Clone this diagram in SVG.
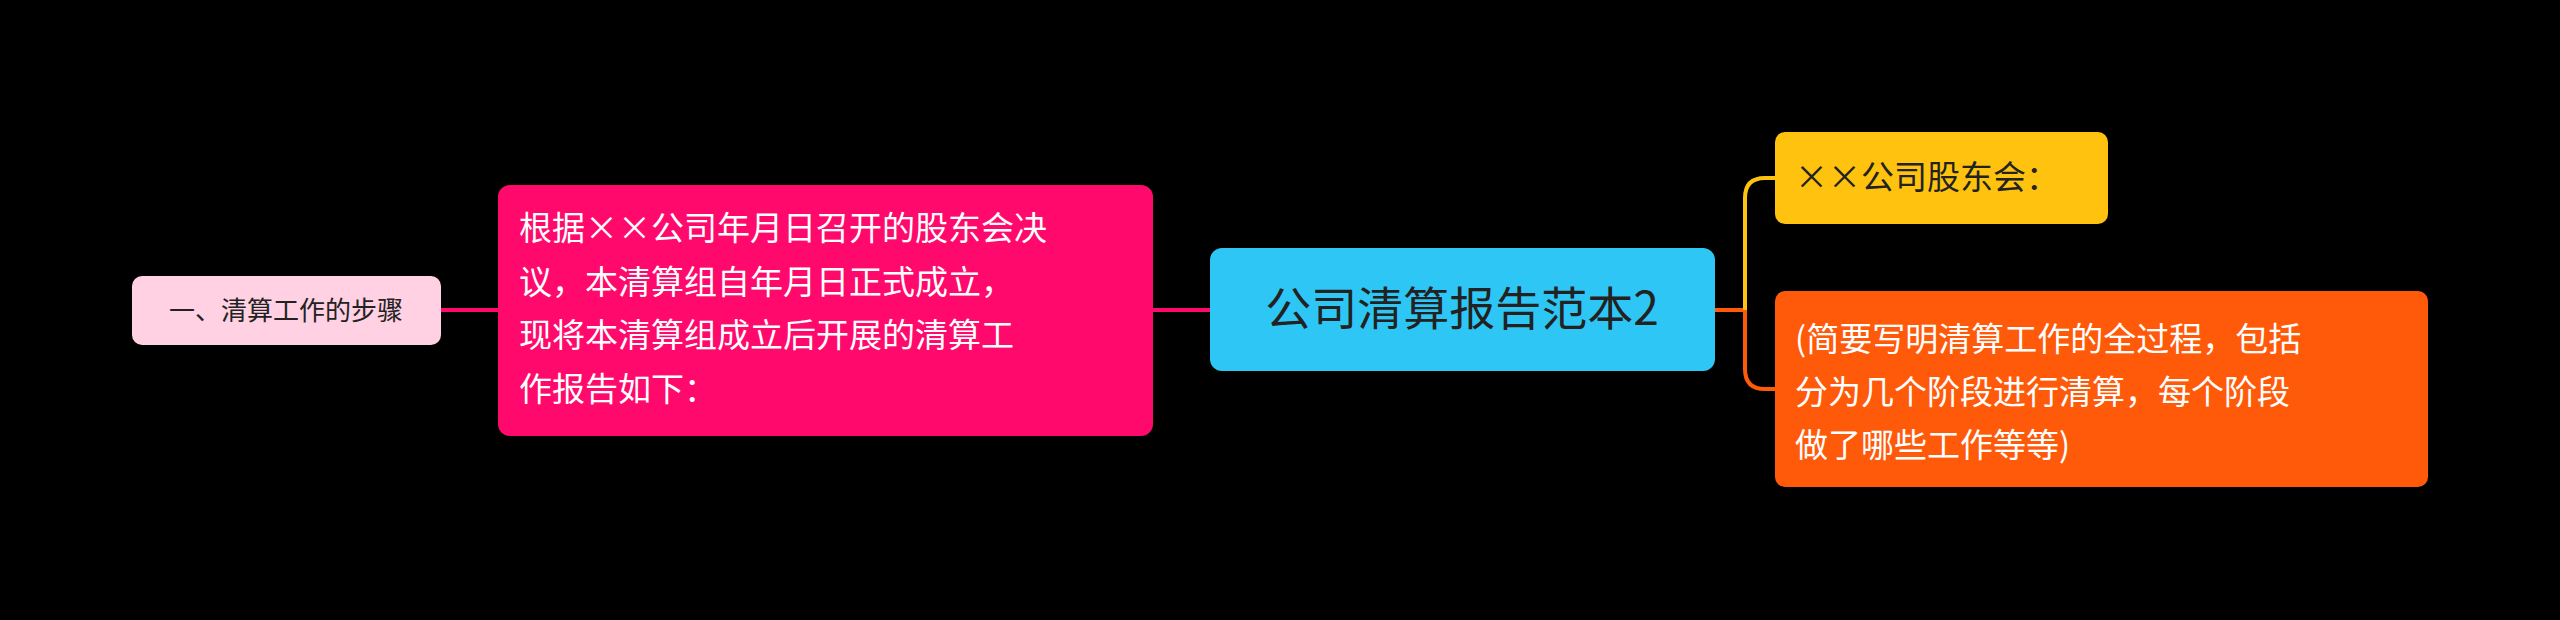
<svg xmlns="http://www.w3.org/2000/svg" width="2560" height="620" viewBox="0 0 2560 620">
<style>
text{font-family:"Noto Sans CJK SC","Noto Sans",sans-serif}
.w{fill:#fff;font-size:33px}
.d{fill:#222;font-size:33px}
.c{fill:none;stroke-width:4}
</style>
<rect width="2560" height="620" fill="#000"/>
<g id="connectors">
<path class="c" stroke="#ff0a6c" d="M1210 310 H1153"/>
<path class="c" stroke="#ff0a6c" d="M498 310 H441"/>
<path class="c" stroke="#ff5a0a" d="M1715 310 H1745"/>
<path class="c" stroke="#ffc20e" d="M1745 310 V198 Q1745 178 1765 178 H1775"/>
<path class="c" stroke="#ff5a0a" d="M1745 310 V369 Q1745 389 1765 389 H1775"/>
</g>
<g id="center">
<rect x="1210" y="248" width="505" height="123" rx="12" fill="#2ec7f5"/>
<text x="1462" y="325" text-anchor="middle" font-size="46" fill="#222">公司清算报告范本2</text>
</g>
<g id="left">
<rect x="498" y="185" width="655" height="251" rx="12" fill="#ff0a6c"/>
<text class="w" x="519" y="240">根据××公司年月日召开的股东会决</text>
<text class="w" x="519" y="294">议，本清算组自年月日正式成立，</text>
<text class="w" x="519" y="347">现将本清算组成立后开展的清算工</text>
<text class="w" x="519" y="401">作报告如下：</text>
</g>
<g id="farleft">
<rect x="132" y="276" width="309" height="69" rx="10" fill="#ffd1e3"/>
<text x="286" y="320" text-anchor="middle" font-size="26" fill="#222">一、清算工作的步骤</text>
</g>
<g id="righttop">
<rect x="1775" y="132" width="333" height="92" rx="10" fill="#ffc20e"/>
<text class="d" x="1795" y="189">××公司股东会：</text>
</g>
<g id="rightbottom">
<rect x="1775" y="291" width="653" height="196" rx="10" fill="#ff5a0a"/>
<text class="w" x="1795" y="351">(简要写明清算工作的全过程，包括</text>
<text class="w" x="1795" y="404">分为几个阶段进行清算，每个阶段</text>
<text class="w" x="1795" y="457">做了哪些工作等等)</text>
</g>
</svg>
